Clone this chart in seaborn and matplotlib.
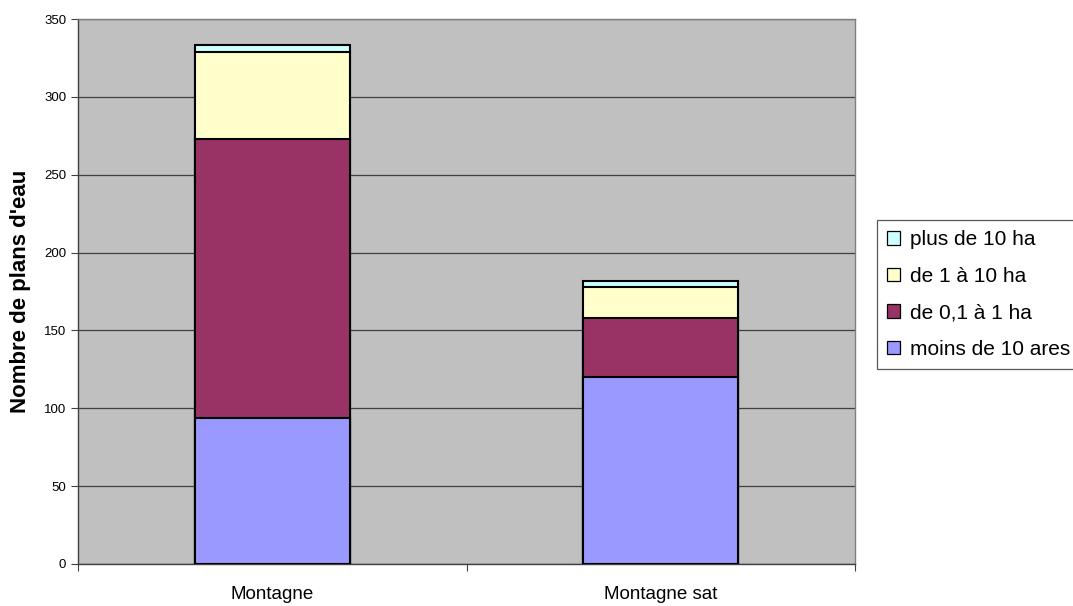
import numpy as np
import pandas as pd
import matplotlib
matplotlib.use("Agg")
import matplotlib.pyplot as plt
from matplotlib.patches import Patch
import seaborn as sns

# Water bodies by surface class
sites = ["Montagne", "Montagne sat"]
moins_10_ares = [94, 120]
de_01_a_1_ha = [179, 38]
de_1_a_10_ha = [56, 20]
plus_10_ha = [4, 4]

classes = ["moins de 10 ares", "de 0,1 à 1 ha", "de 1 à 10 ha", "plus de 10 ha"]
colors = ["#9999FF", "#993366", "#FFFFCC", "#CCFFFF"]
y_ticks = [0, 50, 100, 150, 200, 250, 300, 350]

sns.set_style("white")
plt.rcParams["font.family"] = ["Liberation Sans", "DejaVu Sans"]
plt.rcParams["text.color"] = "black"
plt.rcParams["axes.labelcolor"] = "black"
plt.rcParams["xtick.color"] = "black"
plt.rcParams["ytick.color"] = "black"

df = pd.DataFrame({
    "site": sites,
    classes[0]: moins_10_ares,
    classes[1]: de_01_a_1_ha,
    classes[2]: de_1_a_10_ha,
    classes[3]: plus_10_ha,
})
cum = df[classes].cumsum(axis=1)

fig = plt.figure(figsize=(10.73, 6.06), dpi=100)
ax = fig.add_axes([78 / 1073, 42 / 606, 777 / 1073, 545 / 606])
ax.set_facecolor("#C0C0C0")

# stacked bars: draw cumulative totals from the top layer down
for cls, col in reversed(list(zip(classes, colors))):
    sns.barplot(x=df["site"], y=cum[cls], color=col, width=0.4,
                edgecolor="black", linewidth=1.5, saturation=1, ax=ax, zorder=3)

ax.set_xlim(-0.5, 1.5)
ax.set_ylim(0, 350)
ax.set_yticks(y_ticks)
ax.yaxis.grid(True, color="#404040", linewidth=0.9, zorder=0)
ax.set_axisbelow(True)
ax.tick_params(axis="y", which="major", length=5, width=0.8, color="#404040",
               labelsize=9.5, pad=3.5, left=True)
ax.tick_params(axis="x", which="major", length=0, labelsize=13.5, pad=16)
ax.set_xticks([-0.5, 0.5, 1.5], minor=True)
ax.tick_params(axis="x", which="minor", length=5, width=0.8, color="#404040", bottom=True)
ax.set_xlabel("")
ax.set_ylabel("Nombre de plans d'eau", fontsize=16, fontweight="bold", labelpad=9)

for side in ["left", "bottom"]:
    ax.spines[side].set_color("#404040")
    ax.spines[side].set_linewidth(1.0)
for side in ["top", "right"]:
    ax.spines[side].set_color("#808080")
    ax.spines[side].set_linewidth(1.0)

handles = [Patch(facecolor=c, edgecolor="black", linewidth=0.9, label=l)
           for l, c in zip(classes, colors)][::-1]
leg = fig.legend(handles=handles, loc="upper left",
                 bbox_to_anchor=(877 / 1073, 1 - 220 / 606),
                 frameon=True, fancybox=False, fontsize=15, handlelength=0.62,
                 handleheight=0.62, handletextpad=0.45, labelspacing=0.84,
                 borderpad=0.5, borderaxespad=0)
leg.get_frame().set_edgecolor("#303030")
leg.get_frame().set_linewidth(0.9)

fig.savefig("out.png", dpi=100)
